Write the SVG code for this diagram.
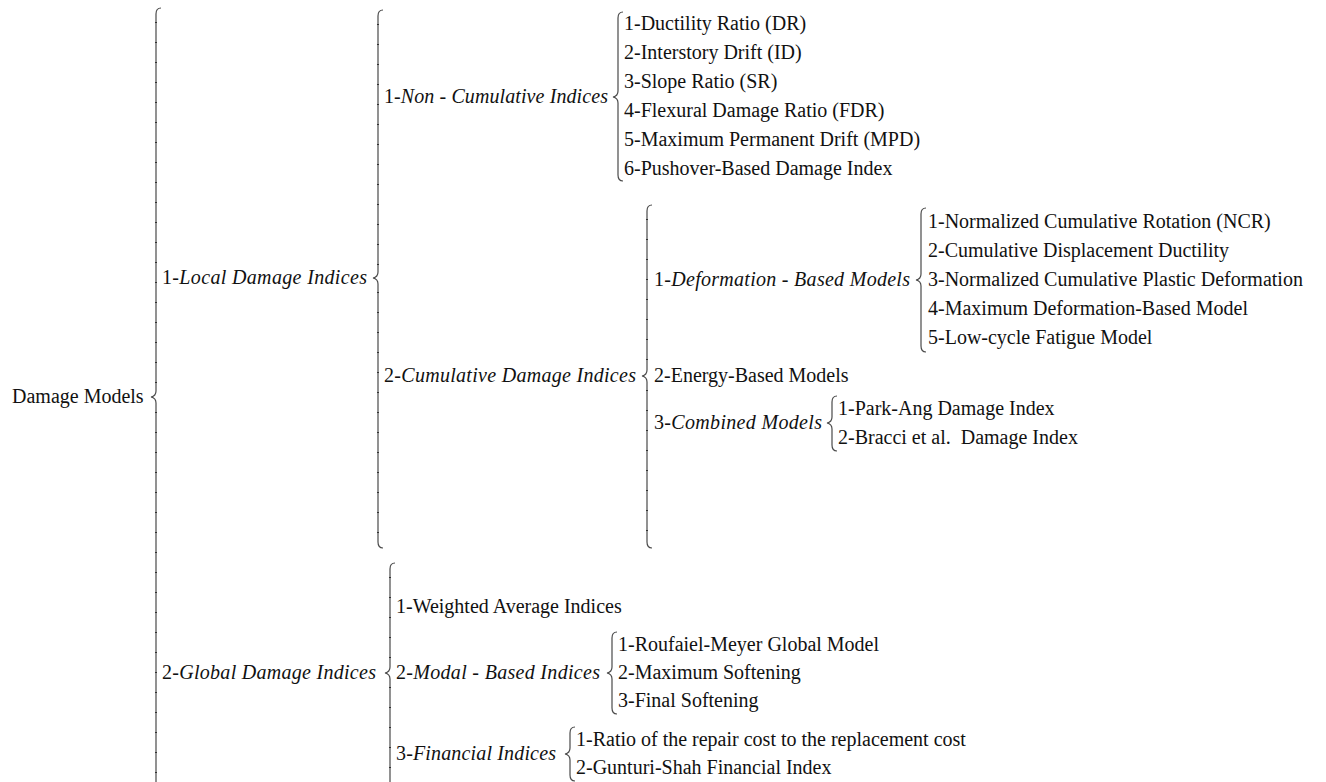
<svg xmlns="http://www.w3.org/2000/svg" width="1326" height="782" viewBox="0 0 1326 782">
<style>
  text { font-family: "Liberation Serif", "Times New Roman", Times, serif; font-size: 20px; fill: #111; }
  .it { font-style: italic; }
  .brace { fill: none; stroke: #4a4a4a; stroke-width: 1.2; }
  .tick { fill: none; stroke: #333; stroke-width: 2; stroke-dasharray: 1 19; }
</style>
<rect width="1326" height="782" fill="#fff"/>
<g id="connectors">
  <path class="brace" d="M161,8 Q156,8 156,14 V391 Q156,396 151,397 Q156,398 156,403 V790"/>
  <path class="brace" d="M383,10 Q378,10 378,16 V272 Q378,277 373,278 Q378,279 378,284 V542 Q378,548 383,548"/>
  <path class="brace" d="M623,12 Q618,12 618,18 V91 Q618,96 613,97 Q618,98 618,103 V175 Q618,181 623,181"/>
  <path class="brace" d="M652,205 Q647,205 647,211 V370 Q647,375 642,376 Q647,377 647,382 V542 Q647,548 652,548"/>
  <path class="brace" d="M926,208 Q921,208 921,214 V274 Q921,279 916,280 Q921,281 921,286 V346 Q921,352 926,352"/>
  <path class="brace" d="M837,396 Q832,396 832,402 V417 Q832,422 827,423 Q832,424 832,429 V445 Q832,451 837,451"/>
  <path class="brace" d="M395,563 Q390,563 390,569 V667 Q390,672 385,673 Q390,674 390,679 V790"/>
  <path class="brace" d="M617,632 Q612,632 612,638 V667 Q612,672 607,673 Q612,674 612,679 V708 Q612,714 617,714"/>
  <path class="brace" d="M575,727 Q570,727 570,733 V748 Q570,753 565,754 Q570,755 570,760 V775 Q570,781 575,781"/>
  <path class="tick" d="M156,22 V388 M156,412 V790"/>
  <path class="tick" d="M378,24 V270 M378,292 V540"/>
  <path class="tick" d="M647,219 V368 M647,390 V540"/>
  <path class="tick" d="M390,577 V665 M390,687 V790"/>
</g>
<g id="n-root"><text x="12" y="403">Damage Models</text></g>
<g id="n-local"><text x="162" y="284" textLength="205" lengthAdjust="spacing">1-<tspan class="it">Local Damage Indices</tspan></text></g>
<g id="n-noncum"><text x="384" y="103" textLength="224" lengthAdjust="spacing">1-<tspan class="it">Non - Cumulative Indices</tspan></text></g>
<g id="n-noncum-items">
  <text x="624" y="30">1-Ductility Ratio (DR)</text>
  <text x="624" y="59">2-Interstory Drift (ID)</text>
  <text x="624" y="88">3-Slope Ratio (SR)</text>
  <text x="624" y="117">4-Flexural Damage Ratio (FDR)</text>
  <text x="624" y="146">5-Maximum Permanent Drift (MPD)</text>
  <text x="624" y="175">6-Pushover-Based Damage Index</text>
</g>
<g id="n-cum"><text x="384" y="382" textLength="252" lengthAdjust="spacing">2-<tspan class="it">Cumulative Damage Indices</tspan></text></g>
<g id="n-deform"><text x="654" y="286" textLength="256" lengthAdjust="spacing">1-<tspan class="it">Deformation - Based Models</tspan></text></g>
<g id="n-deform-items">
  <text x="928" y="228">1-Normalized Cumulative Rotation (NCR)</text>
  <text x="928" y="257">2-Cumulative Displacement Ductility</text>
  <text x="928" y="286">3-Normalized Cumulative Plastic Deformation</text>
  <text x="928" y="315">4-Maximum Deformation-Based Model</text>
  <text x="928" y="344">5-Low-cycle Fatigue Model</text>
</g>
<g id="n-energy"><text x="654" y="382">2-Energy-Based Models</text></g>
<g id="n-combined"><text x="654" y="429" textLength="168" lengthAdjust="spacing">3-<tspan class="it">Combined Models</tspan></text></g>
<g id="n-combined-items">
  <text x="838" y="415">1-Park-Ang Damage Index</text>
  <text x="838" y="444" xml:space="preserve">2-Bracci et al.  Damage Index</text>
</g>
<g id="n-global"><text x="162" y="679" textLength="214" lengthAdjust="spacing">2-<tspan class="it">Global Damage Indices</tspan></text></g>
<g id="n-weighted"><text x="396" y="613">1-Weighted Average Indices</text></g>
<g id="n-modal"><text x="396" y="679" textLength="204" lengthAdjust="spacing">2-<tspan class="it">Modal - Based Indices</tspan></text></g>
<g id="n-modal-items">
  <text x="618" y="651">1-Roufaiel-Meyer Global Model</text>
  <text x="618" y="679">2-Maximum Softening</text>
  <text x="618" y="707">3-Final Softening</text>
</g>
<g id="n-financial"><text x="396" y="760" textLength="160" lengthAdjust="spacing">3-<tspan class="it">Financial Indices</tspan></text></g>
<g id="n-financial-items">
  <text x="576" y="746">1-Ratio of the repair cost to the replacement cost</text>
  <text x="576" y="774">2-Gunturi-Shah Financial Index</text>
</g>
</svg>
